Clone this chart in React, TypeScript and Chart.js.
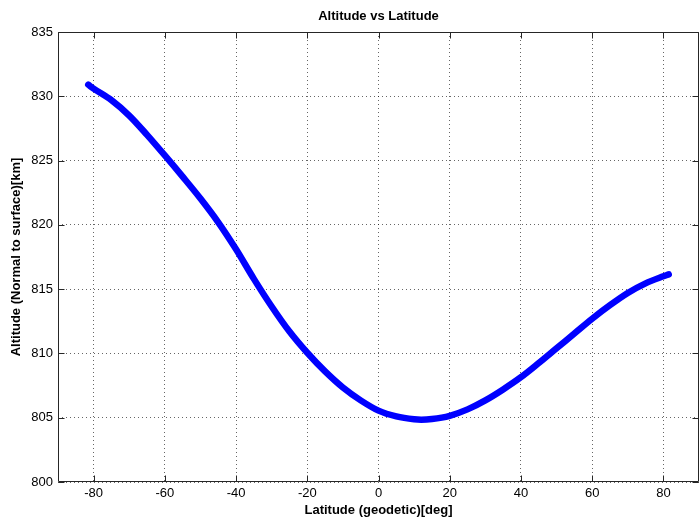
import React, { useEffect, useRef } from "react";
import { Chart, registerables } from "chart.js";

Chart.register(...registerables);

const chartTitle = "Altitude vs Latitude";
const xAxisTitle = "Latitude (geodetic)[deg]";
const yAxisTitle = "Altitude (Normal to surface)[km]";

const latitude = [
  -81.5, -80, -75, -70, -65, -60, -55, -50, -45, -40, -35, -30, -25, -20, -15, -10, -5,
  0, 5, 10, 12, 15, 20, 25, 30, 35, 40, 45, 50, 55, 60, 65, 70, 75, 80, 81.5,
];
const altitude = [
  830.9, 830.6, 829.7, 828.5, 827.0, 825.4, 823.75, 822.05, 820.2, 818.1, 815.8, 813.65,
  811.7, 810.05, 808.6, 807.35, 806.35, 805.55, 805.1, 804.88, 804.85, 804.9, 805.15, 805.65,
  806.35, 807.2, 808.15, 809.25, 810.4, 811.55, 812.7, 813.75, 814.7, 815.45, 816.0, 816.15,
];

const xTicks = [-80, -60, -40, -20, 0, 20, 40, 60, 80];
const yTicks = [800, 805, 810, 815, 820, 825, 830, 835];

const FONT = '"Liberation Sans", Arial, sans-serif';

const framePlugin = {
  id: "matlabFrame",
  afterDraw(chart: any) {
    const { ctx, chartArea } = chart;
    const { left, right, top, bottom } = chartArea;
    const xs = chart.scales.x;
    const ys = chart.scales.y;
    ctx.save();
    ctx.strokeStyle = "#262626";
    ctx.lineWidth = 1;
    ctx.beginPath();
    const L = Math.round(left) + 0.5;
    const R = Math.round(right) - 0.5;
    const T = Math.round(top) + 0.5;
    const B = Math.round(bottom) - 0.5;
    ctx.rect(L, T, R - L, B - T);
    const tl = 6;
    xTicks.forEach((v) => {
      const px = Math.round(xs.getPixelForValue(v)) + 0.5;
      ctx.moveTo(px, B);
      ctx.lineTo(px, B - tl);
      ctx.moveTo(px, T);
      ctx.lineTo(px, T + tl);
    });
    yTicks.forEach((v) => {
      const py = Math.round(ys.getPixelForValue(v)) + 0.5;
      ctx.moveTo(L, py);
      ctx.lineTo(L + tl, py);
      ctx.moveTo(R, py);
      ctx.lineTo(R - tl, py);
    });
    ctx.stroke();
    ctx.fillStyle = "#000";
    ctx.font = `bold 13px ${FONT}`;
    ctx.textAlign = "center";
    ctx.textBaseline = "middle";
    ctx.fillText(chartTitle, (left + right) / 2, 16);
    ctx.restore();
  },
};

export default function App() {
  const ref = useRef<HTMLCanvasElement | null>(null);
  useEffect(() => {
    if (!ref.current) return;
    const chart = new Chart(ref.current, {
      type: "line",
      data: {
        datasets: [
          {
            data: latitude.map((x, i) => ({ x, y: altitude[i] })),
            borderColor: "#0000ff",
            backgroundColor: "#0000ff",
            borderWidth: 6.5,
            borderCapStyle: "round",
            borderJoinStyle: "round",
            pointRadius: 0,
            cubicInterpolationMode: "monotone",
            fill: false,
          },
        ],
      },
      options: {
        responsive: false,
        animation: false,
        layout: { padding: { top: 32, right: 1, left: 0, bottom: 0 } },
        plugins: { legend: { display: false }, tooltip: { enabled: false }, title: { display: false } },
        scales: {
          x: {
            type: "linear",
            min: -90,
            max: 90,
            afterBuildTicks: (s: any) => {
              s.ticks = xTicks.map((v) => ({ value: v }));
            },
            afterFit: (s: any) => {
              s.height = 37;
            },
            grid: { color: "rgba(0,0,0,0.6)", drawTicks: false, lineWidth: 1 },
            border: { display: false, dash: [1, 3] },
            ticks: { color: "#000", font: { family: FONT, size: 13 }, padding: 4, maxRotation: 0, autoSkip: false },
            title: {
              display: true,
              text: xAxisTitle,
              color: "#000",
              font: { family: FONT, size: 13, weight: "bold" },
              padding: { top: 0, bottom: 1 },
            },
          },
          y: {
            type: "linear",
            min: 800,
            max: 835,
            afterBuildTicks: (s: any) => {
              s.ticks = yTicks.map((v) => ({ value: v }));
            },
            afterFit: (s: any) => {
              s.width = 58;
            },
            grid: { color: "rgba(0,0,0,0.6)", drawTicks: false, lineWidth: 1 },
            border: { display: false, dash: [1, 3] },
            ticks: { color: "#000", font: { family: FONT, size: 13 }, padding: 5, autoSkip: false },
            title: {
              display: true,
              text: yAxisTitle,
              color: "#000",
              font: { family: FONT, size: 13, weight: "bold" },
              padding: { top: 9, bottom: 0 },
            },
          },
        },
      },
      plugins: [framePlugin],
    } as any);
    return () => chart.destroy();
  }, []);
  return (
    <div style={{ position: "fixed", left: 0, top: 0, width: 700, height: 519, background: "#fff" }}>
      <canvas ref={ref} width={700} height={519} style={{ display: "block" }} />
    </div>
  );
}
